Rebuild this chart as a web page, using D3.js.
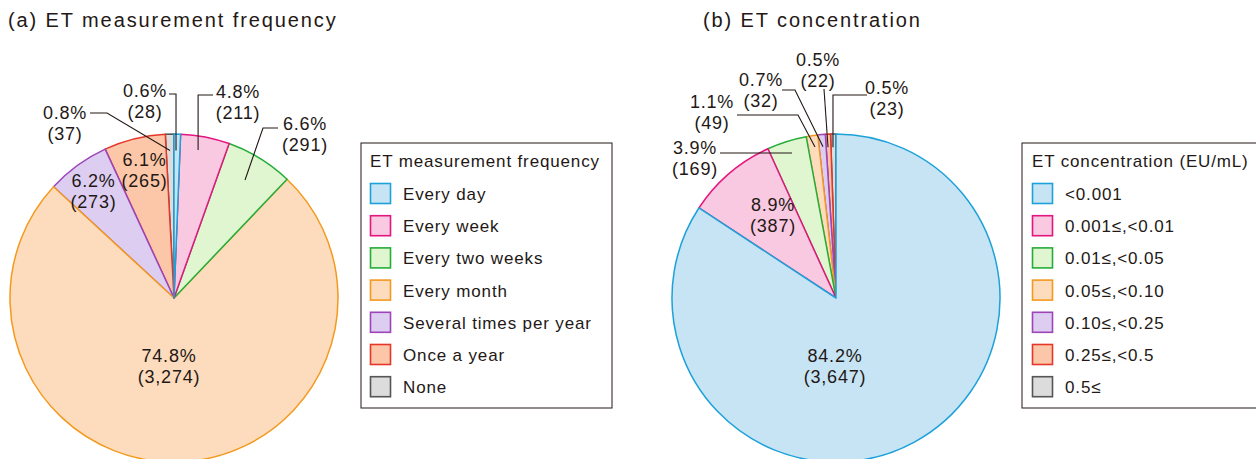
<!DOCTYPE html>
<html><head><meta charset="utf-8">
<script src="https://cdn.jsdelivr.net/npm/d3@7"></script>
<style>
body{margin:0;background:#fff;}
svg text{font-family:"Liberation Sans",Arial,sans-serif;fill:#231815;}
</style></head><body>
<svg id="chart" width="1256" height="459"></svg>
<script>
// ---- data ----
const freqTitle = "(a) ET measurement frequency";
const freqLegendTitle = "ET measurement frequency";
const freqCategories = ["Every day","Every week","Every two weeks","Every month","Several times per year","Once a year","None"];
const freqCounts = [28,211,291,3274,273,265,37];

const concTitle = "(b) ET concentration";
const concLegendTitle = "ET concentration (EU/mL)";
const concCategories = ["<0.001","0.001≤,<0.01","0.01≤,<0.05","0.05≤,<0.10","0.10≤,<0.25","0.25≤,<0.5","0.5≤"];
const concCounts = [3647,387,169,49,32,22,23];

// ---- styles ----
const fills   = ["#c6e4f4","#f9c9e1","#e0f6d0","#fddcbd","#ddcef1","#fcc7a8","#dcdcdc"];
const strokes = ["#1da1d9","#e4157f","#25ad3a","#f39a1e","#9c44b8","#e5362a","#555555"];

// label layout (offsets relative to pie centre)
const freqLayout = [
  {t:.34, rf:.90, elbow:[null,-204], end:-5,  text:[-29,-201]},
  {t:.40, rf:.915, elbow:[null,-203], end:39, text:[64,-200]},
  {t:.476, rf:.84, elbow:[89,-170], end:104,  text:[131,-168]},
  {text:[-5,64]},
  {text:[-80.5,-111]},
  {text:[-29.5,-132]},
  {t:.49, rf:.90, elbow:[-67,-185], end:-84,  text:[-109,-179]}
];
const concLayout = [
  {text:[-1,64]},
  {text:[-63,-87]},
  {t:.545, rf:.924, elbow:"self", end:-116, text:[-141,-144]},
  {t:.63, rf:.93, elbow:[-38,-183], end:-99, text:[-124,-190]},
  {t:.56, rf:.925, elbow:[-41,-208], end:-54, text:[-75,-212]},
  {t:.39, rf:.92, elbow:[-12,-209], end:null, text:[-18,-232]},
  {t:.40, rf:.92, elbow:[null,-203], end:31, text:[51,-204]}
];

const svg = d3.select("#chart");
const R = 164;
const fmtPct = d3.format(".1f");
const fmtCnt = d3.format(",");

function drawPanel(opt){
  const g = svg.append("g").attr("transform",`translate(${opt.cx},${opt.cy})`);
  const total = d3.sum(opt.counts);
  const arcs = d3.pie().sort(null).value(d=>d)(opt.counts);
  const arc = d3.arc().innerRadius(0).outerRadius(R);
  // draw in reverse order so boundaries match
  const order = d3.range(arcs.length).reverse();
  g.selectAll("path.slice").data(order.map(i=>arcs[i])).join("path")
    .attr("class","slice")
    .attr("d",arc)
    .attr("fill",d=>fills[d.index])
    .attr("stroke",d=>strokes[d.index])
    .attr("stroke-width",1.5)
    .attr("stroke-linejoin","round");

  const pt = (a,r)=>[r*Math.sin(a), -r*Math.cos(a)];
  arcs.forEach((a,i)=>{
    const L = opt.layout[i];
    if (L.t !== undefined){
      const ang = a.startAngle + L.t*(a.endAngle-a.startAngle);
      const p0 = pt(ang, L.rf*R);
      const pts = [p0];
      let p1;
      if (L.elbow === "self") p1 = p0;
      else p1 = [L.elbow[0]===null ? p0[0] : L.elbow[0], L.elbow[1]];
      if (p1 !== p0) pts.push(p1);
      if (L.end !== null) pts.push([L.end, p1[1]]);
      g.append("path").attr("d", d3.line()(pts))
        .attr("fill","none").attr("stroke","#231815").attr("stroke-width",1.1);
    }
    const pct = fmtPct(opt.counts[i]/total*100)+"%";
    const cnt = "(" + fmtCnt(opt.counts[i]) + ")";
    const tx = g.append("text").attr("text-anchor","middle")
      .style("font-size","18px").style("letter-spacing","0.8px");
    tx.append("tspan").attr("x",L.text[0]).attr("y",L.text[1]).text(pct);
    tx.append("tspan").attr("x",L.text[0]).attr("y",L.text[1]+21).text(cnt);
  });

  // title
  svg.append("text").attr("x",opt.titleX).attr("y",27)
    .style("font-size","20px").style("letter-spacing","1.9px").text(opt.title);

  // legend
  const lg = svg.append("g").attr("transform",`translate(${opt.lx},143)`);
  lg.append("rect").attr("x",0).attr("y",0).attr("width",opt.lw).attr("height",265)
    .attr("fill","#fff").attr("stroke","#231815").attr("stroke-width",1);
  lg.append("text").attr("x",opt.ltx).attr("y",23.5)
    .style("font-size","17px").style("letter-spacing","0.85px").text(opt.legendTitle);
  const rowY = d3.scalePoint().domain(opt.categories).range([50,243.2]);
  const rows = lg.selectAll("g.row").data(opt.categories).join("g")
    .attr("class","row").attr("transform",d=>`translate(0,${rowY(d)})`);
  rows.append("rect").attr("x",opt.ltx+0.5).attr("y",-9.5).attr("width",20).attr("height",20)
    .attr("fill",(d,i)=>fills[i]).attr("stroke",(d,i)=>strokes[i]).attr("stroke-width",1.6);
  rows.append("text").attr("x",opt.ltx+33).attr("y",7)
    .style("font-size","17px").style("letter-spacing","0.85px").text(d=>d);
}

drawPanel({cx:174, cy:298, counts:freqCounts, categories:freqCategories, layout:freqLayout,
  title:freqTitle, titleX:8, legendTitle:freqLegendTitle, lx:361, lw:251, ltx:9});
drawPanel({cx:836, cy:298, counts:concCounts, categories:concCategories, layout:concLayout,
  title:concTitle, titleX:703, legendTitle:concLegendTitle, lx:1022, lw:260, ltx:10});
</script>
</body></html>
